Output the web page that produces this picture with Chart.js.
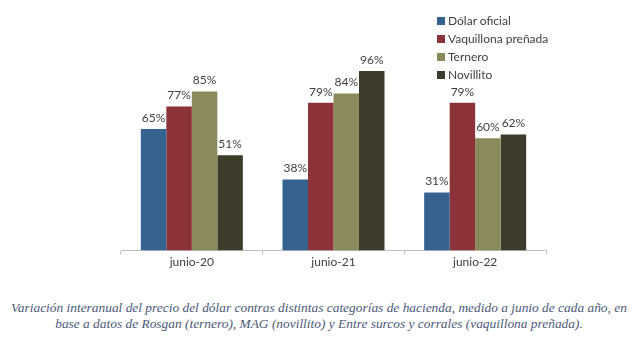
<!DOCTYPE html>
<html lang="es">

<head>
    <meta charset="UTF-8">
    <title>Dólar vs hacienda</title>
    <style>
        * {
            margin: 0;
            padding: 0;
            box-sizing: border-box;
        }

        body {
            width: 638px;
            height: 347px;
            background: #ffffff;
            font-family: Lato, sans-serif;
            position: relative;
            overflow: hidden;
        }

        .chart-box {
            position: absolute;
            left: 0;
            top: 0;
            width: 638px;
            height: 275px;
        }

        /* legend on the top right, one item per row */
        #legend {
            position: absolute;
            left: 437px;
            top: 13px;
            list-style: none;
            font-size: 12px;
            color: #404040;
        }

        #legend li {
            height: 18px;
            line-height: 16px;
            white-space: nowrap;
        }

        #legend span {
            display: inline-block;
            width: 8px;
            height: 8px;
            margin-right: 3px;
            vertical-align: 0px;
        }

        .caption {
            position: absolute;
            left: 0;
            top: 300px;
            width: 638px;
            text-align: center;
            font-family: 'Liberation Serif', serif;
            font-style: italic;
            font-size: 13.4px;
            line-height: 16px;
            color: #4a5878;
        }
    </style>
</head>

<body>
    <div class="chart-box">
        <canvas id="chart"></canvas>
    </div>
    <ul id="legend"></ul>
    <div class="caption">
        Variación interanual del precio del dólar contras distintas categorías de hacienda, medido a junio de cada año, en<br>
        base a datos de Rosgan (ternero), MAG (novillito) y Entre surcos y corrales (vaquillona preñada).
    </div>

    <script src="https://cdn.jsdelivr.net/npm/chart.js"></script>
    <script>
        const categories = ['junio-20', 'junio-21', 'junio-22'];
        const seriesNames = ['Dólar oficial', 'Vaquillona preñada', 'Ternero', 'Novillito'];
        const dolarOficial = [65, 38, 31];
        const vaquillona = [77, 79, 79];
        const ternero = [85, 84, 60];
        const novillito = [51, 96, 62];
        const seriesColors = ['#35628f', '#8b3338', '#8b8a5b', '#3d3b29'];

        const allValues = [dolarOficial, vaquillona, ternero, novillito];

        // value labels above each bar
        const barLabels = {
            id: 'barLabels',
            afterDatasetsDraw(chart) {
                const c = chart.ctx;
                c.save();
                c.font = '12px Lato, sans-serif';
                c.fillStyle = '#404040';
                c.textAlign = 'center';
                c.textBaseline = 'bottom';
                chart.data.datasets.forEach((ds, i) => {
                    chart.getDatasetMeta(i).data.forEach((bar, j) => {
                        c.fillText(ds.data[j] + '%', bar.x, bar.y - 5);
                    });
                });
                c.restore();
            }
        };

        new Chart(document.getElementById('chart'), {
            type: 'bar',
            data: {
                labels: categories,
                datasets: allValues.map((vals, i) => ({
                    label: seriesNames[i],
                    data: vals,
                    backgroundColor: seriesColors[i],
                    borderWidth: 0
                }))
            },
            options: {
                responsive: true,
                maintainAspectRatio: false,
                animation: false,
                layout: {
                    padding: { left: 121, right: 92, top: 26, bottom: 6 }
                },
                datasets: {
                    bar: { categoryPercentage: 0.72, barPercentage: 1.0 }
                },
                plugins: {
                    legend: { display: false },
                    tooltip: { enabled: false }
                },
                scales: {
                    y: {
                        display: false,
                        min: 0,
                        max: 120
                    },
                    x: {
                        grid: {
                            drawOnChartArea: false,
                            drawTicks: true,
                            tickLength: 4,
                            color: '#c0c0c0'
                        },
                        border: { color: '#c0c0c0' },
                        ticks: {
                            color: '#404040',
                            font: { family: 'Lato', size: 12 },
                            padding: 0
                        }
                    }
                }
            },
            plugins: [barLabels]
        });

        const legend = document.getElementById('legend');
        seriesNames.forEach((name, i) => {
            const li = document.createElement('li');
            li.innerHTML = '<span style="background:' + seriesColors[i] + '"></span>' + name;
            legend.appendChild(li);
        });
    </script>
</body>

</html>
